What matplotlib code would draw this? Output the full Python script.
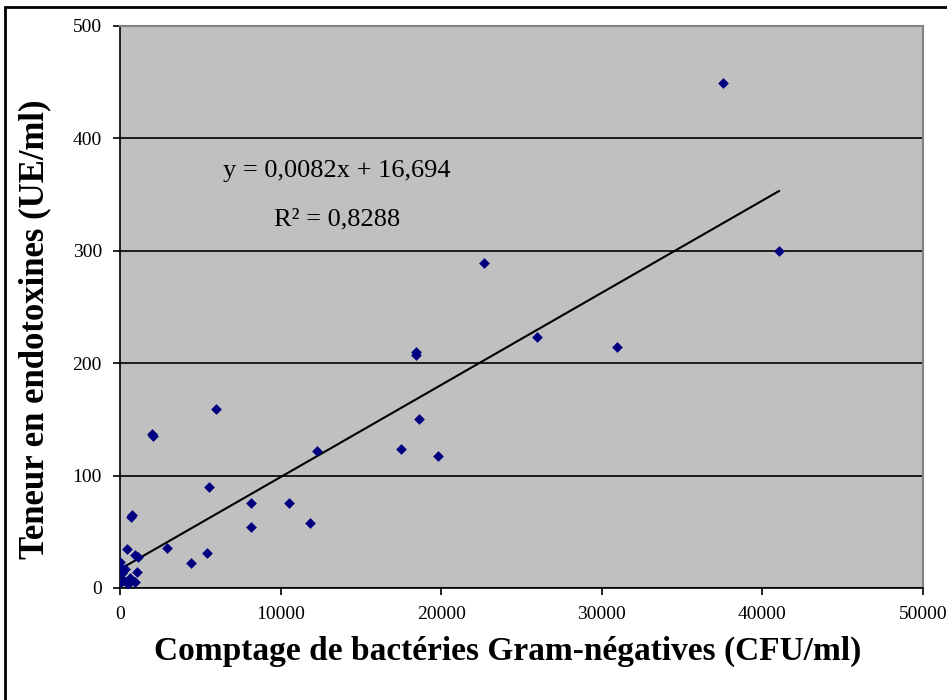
import matplotlib.pyplot as plt
from matplotlib.patches import Rectangle

# Comptage de bactéries Gram-négatives (CFU/ml) vs teneur en endotoxines (UE/ml)
gram_neg = [37550, 41030, 22670, 25970, 30950, 18400, 18450, 18620, 17500, 19800,
            12270, 5980, 1990, 2060, 5540, 8160, 10520, 8160, 11830, 2930,
            4420, 5400, 690, 720, 440, 930, 1100, 0, 0, 300,
            1050, 100, 600, 930, 200, 500, 50]
endotox = [449, 300, 289, 223, 214, 210, 207, 150, 124, 117,
           122, 159, 137, 135, 90, 76, 76, 54, 58, 36,
           22, 31, 63, 65, 35, 29, 28, 23, 19, 17,
           14, 13, 9, 5, 7, 4, 5]

# équation affichée de la courbe de tendance
slope = 0.0082
intercept = 16.694

x_ticks = [0, 10000, 20000, 30000, 40000, 50000]
y_ticks = [0, 100, 200, 300, 400, 500]

plt.rcParams["font.family"] = ["Liberation Serif", "DejaVu Serif"]

fig = plt.figure(figsize=(9.47, 7.0), dpi=100)
ax = fig.add_axes([0.1267, 0.16, 0.848, 0.8029])
ax.set_facecolor("#c0c0c0")

ax.scatter(gram_neg, endotox, marker="D", s=30, color="#000080", zorder=3, linewidths=0)

# courbe de tendance linéaire
x_line = [0, max(gram_neg)]
y_line = [intercept + slope * v for v in x_line]
ax.plot(x_line, y_line, color="black", lw=1.5, zorder=2)

ax.text(13500, 371, "y = 0,0082x + 16,694", fontsize=19, ha="center", va="center")
ax.text(13500, 328, "R\u00b2 = 0,8288", fontsize=19, ha="center", va="center")

ax.set_xlim(0, 50000)
ax.set_ylim(0, 500)
ax.set_xticks(x_ticks)
ax.set_yticks(y_ticks)
ax.tick_params(direction="out", length=5, width=1.2, labelsize=14, pad=8)
ax.yaxis.grid(True, color="black", lw=1.2)
ax.set_axisbelow(True)

for side in ["top", "right"]:
    ax.spines[side].set_color("#808080")
    ax.spines[side].set_linewidth(1.5)
for side in ["left", "bottom"]:
    ax.spines[side].set_color("black")
    ax.spines[side].set_linewidth(1.2)

ax.set_xlabel("Comptage de bactéries Gram-négatives (CFU/ml)", fontsize=24,
              fontweight="bold")
ax.set_ylabel("Teneur en endotoxines (UE/ml)", fontsize=25, fontweight="bold")
ax.xaxis.set_label_coords(0.483, -0.085)
ax.yaxis.set_label_coords(-0.085, 0.46)

# cadre autour du graphique
fig.patches.append(Rectangle((5 / 947, -0.01), 1.0, 1.0 - 7 / 700 + 0.01,
                             transform=fig.transFigure, fill=False,
                             edgecolor="black", lw=2))

fig.savefig("out.png", dpi=100)
